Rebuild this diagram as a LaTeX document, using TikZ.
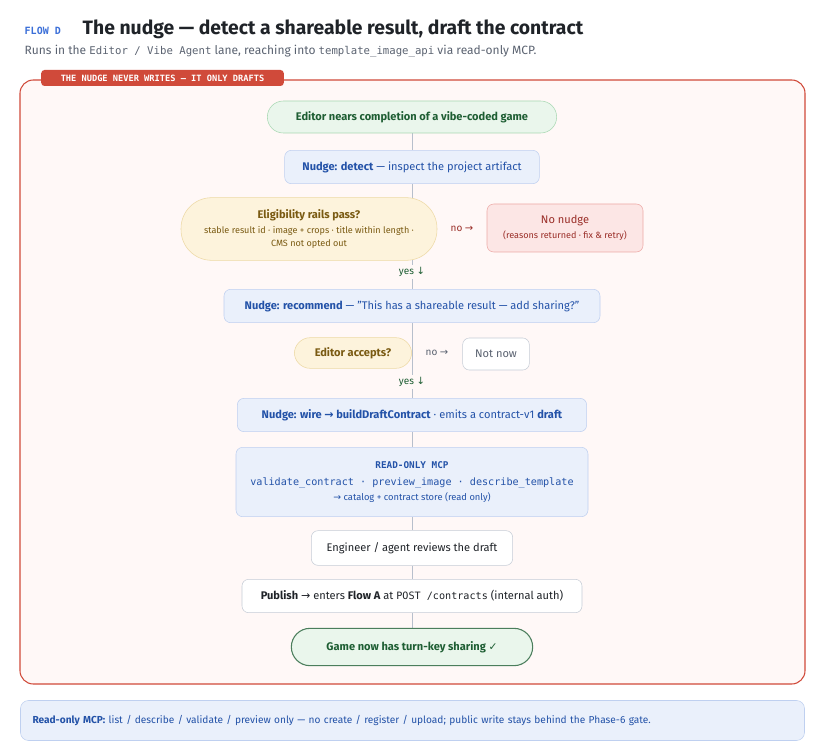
\documentclass[tikz,border=0pt]{standalone}
\usepackage{fontspec}
\setmainfont{Fira Sans}
\setmonofont{DejaVu Sans Mono}
\newfontfamily\symfont{DejaVu Sans}
\usetikzlibrary{backgrounds}
\definecolor{ink}{HTML}{1F2328}
\definecolor{mute}{HTML}{5A6270}
\definecolor{flowblue}{HTML}{3B6FD8}
\definecolor{redline}{HTML}{D04A3A}
\definecolor{redbg}{HTML}{FFF8F7}
\definecolor{grnbg}{HTML}{EAF6EC}
\definecolor{grnline}{HTML}{A8D8B2}
\definecolor{grntext}{HTML}{1E5E33}
\definecolor{bluebg}{HTML}{EAF0FB}
\definecolor{blueline}{HTML}{BFD0F0}
\definecolor{bluetext}{HTML}{2352A8}
\definecolor{ambbg}{HTML}{FDF3DC}
\definecolor{ambline}{HTML}{EDD9A4}
\definecolor{ambtext}{HTML}{7A5A12}
\definecolor{nobg}{HTML}{FCE6E5}
\definecolor{noline}{HTML}{EDA9A6}
\definecolor{notext}{HTML}{9A2E28}
\definecolor{linkgray}{HTML}{B7BFCC}
\newcommand{\sz}[1]{\fontsize{#1}{#1}\selectfont}
\newcommand{\arr}{{\symfont →}}
\tikzset{
  box/.style={draw, rounded corners=5pt, align=center, inner sep=0pt, font=\sz{8.3pt}},
  stepbox/.style={box, draw=blueline, fill=bluebg, text=bluetext, minimum height=25pt},
  pill/.style={box, rounded corners=12pt, minimum height=24pt},
  ask/.style={pill, draw=ambline, fill=ambbg, text=ambtext},
  plainbox/.style={box, draw=linkgray!80, fill=white, text=ink, minimum height=25pt},
  conn/.style={draw=linkgray, line width=0.6pt},
  branch/.style={font=\sz{7.5pt}, fill=redbg, inner sep=1.5pt},
}
\begin{document}
\begin{tikzpicture}[x=0.75pt, y=-0.75pt]
  \useasboundingbox (0,0) rectangle (823,755);

  % Heading
  \node[anchor=west, text=flowblue, font=\ttfamily\bfseries\sz{7.5pt}] (flow) at (20,31) {FLOW D};
  \node[anchor=west, text=ink, font=\bfseries\sz{14.5pt}] (title) at (78,29) {The nudge — detect a shareable result, draft the contract};
  \node[anchor=west, text=mute, font=\sz{9pt}] (sub) at (20,51)
    {Runs in the \texttt{\sz{8pt}Editor / Vibe Agent} lane, reaching into \texttt{\sz{8pt}template\_image\_api} via read-only MCP.};

  % Steps
  \node[pill, draw=grnline, fill=grnbg, text=grntext, minimum width=217pt, font=\bfseries\sz{8.3pt}] (start) at (412,117) {Editor nears completion of a vibe-coded game};
  \node[stepbox, minimum width=191pt] (detect) at (412,167) {\textbf{Nudge: detect} — inspect the project artifact};
  \node[ask, rounded corners=23pt, minimum width=192pt, minimum height=47pt] (rails) at (309,229)
    {\textbf{Eligibility rails pass?}\\[3pt]{\sz{6.8pt}stable result id · image + crops · title within length ·}\\[2pt]{\sz{6.8pt}CMS not opted out}};
  \node[box, draw=noline, fill=nobg, text=notext, minimum width=117pt, minimum height=36pt] (nonudge) at (565,228)
    {No nudge\\[3pt]{\sz{6.8pt}(reasons returned · fix \& retry)}};
  \node[stepbox, minimum width=282pt] (recommend) at (412,306) {\textbf{Nudge: recommend} — "This has a shareable result — add sharing?"};
  \node[ask, minimum width=88pt, minimum height=23pt, font=\bfseries\sz{8.3pt}] (accepts) at (353,353) {Editor accepts?};
  \node[plainbox, minimum width=50pt, minimum height=24pt, text=mute] (notnow) at (496,354) {Not now};
  \node[stepbox, minimum width=262pt] (wire) at (412,415) {\textbf{Nudge: wire \arr{} buildDraftContract} · emits a contract-v1 \textbf{draft}};
  \node[stepbox, minimum width=264pt, minimum height=52pt] (mcp) at (412,482)
    {{\ttfamily\bfseries\sz{7pt}READ-ONLY MCP}\\[4pt]{\ttfamily\sz{7.6pt}validate\_contract · preview\_image · describe\_template}\\[3pt]{\sz{7pt}\arr{} catalog + contract store (read only)}};
  \node[plainbox, minimum width=151pt, minimum height=26pt] (review) at (412,548) {Engineer / agent reviews the draft};
  \node[plainbox, minimum width=255pt] (publish) at (412,596)
    {\textbf{Publish} \arr{} enters \textbf{Flow A} at \texttt{\sz{7.6pt}POST /contracts} (internal auth)};
  \node[pill, draw=grntext!80, line width=0.8pt, fill=grnbg, text=grntext, minimum width=181pt, minimum height=28pt, rounded corners=14pt, font=\bfseries\sz{8.3pt}] (done) at (412,647)
    {Game now has turn-key sharing {\symfont\sz{8pt}✓}};

  % Branch labels
  \node[branch, text=notext] (no1) at (462,229) {no \arr};
  \node[branch, text=grntext] (yes1) at (412,272) {yes {\symfont ↓}};
  \node[branch, text=mute] (no2) at (437,353) {no \arr};
  \node[branch, text=grntext] (yes2) at (412,382) {yes {\symfont ↓}};

  % Tag
  \node[fill=redline, rounded corners=2.5pt, text=white, font=\ttfamily\bfseries\sz{6.5pt}, minimum width=182pt, minimum height=12pt, inner sep=0pt] (tag) at (162.5,78) {THE NUDGE NEVER WRITES — IT ONLY DRAFTS};

  % Footer note
  \node[box, draw=blueline, fill=bluebg, text=bluetext, rounded corners=6pt, minimum width=588pt, minimum height=30pt, text width=570pt, align=left, font=\sz{7.6pt}] (note) at (412.5,720.5)
    {\textbf{Read-only MCP:} list / describe / validate / preview only — no create / register / upload; public write stays behind the Phase-6 gate.};

  \begin{scope}[on background layer]
    \draw[redline, fill=redbg, line width=0.8pt, rounded corners=10pt] (20,80) rectangle (805,684);
    \draw[conn] (start) -- (detect);
    \draw[conn] (detect.south) -- (recommend.north);
    \draw[conn] (recommend.south) -- (wire.north);
    \draw[conn] (wire) -- (mcp);
    \draw[conn] (mcp) -- (review);
    \draw[conn] (review) -- (publish);
    \draw[conn] (publish) -- (done);
  \end{scope}
\end{tikzpicture}
\end{document}
